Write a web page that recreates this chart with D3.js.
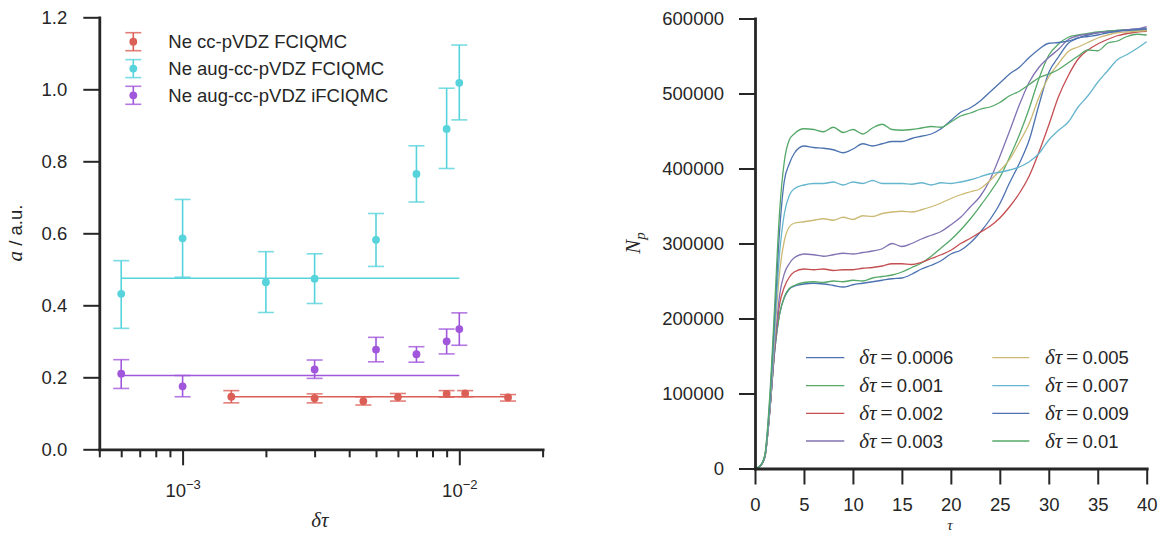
<!DOCTYPE html>
<html>
<head>
<meta charset="utf-8">
<script src="https://cdn.jsdelivr.net/npm/d3@7"></script>
<style>
  html, body { margin: 0; padding: 0; background: #fff; }
  svg { display: block; }
  text { font-family: "Liberation Sans", Arial, Helvetica, sans-serif; fill: #262626; }
</style>
</head>
<body>
<svg id="chart" width="1158" height="534"></svg>
<script>
// ---------------- Left panel data ----------------
const leftSeriesNames = ["Ne cc-pVDZ FCIQMC", "Ne aug-cc-pVDZ FCIQMC", "Ne aug-cc-pVDZ iFCIQMC"];
const leftColors = ["#db5f57", "#57d3db", "#a157db"];

const redX  = [0.0015, 0.003, 0.0045, 0.006, 0.009, 0.0105, 0.015];
const redY  = [0.146, 0.142, 0.134, 0.145, 0.154, 0.155, 0.144];
const redLo = [0.129, 0.129, 0.123, 0.134, 0.145, 0.146, 0.134];
const redHi = [0.163, 0.154, 0.146, 0.155, 0.163, 0.163, 0.152];

const cyanX  = [0.0006, 0.001, 0.002, 0.003, 0.005, 0.007, 0.009, 0.01];
const cyanY  = [0.432, 0.586, 0.464, 0.474, 0.582, 0.765, 0.890, 1.018];
const cyanLo = [0.336, 0.478, 0.380, 0.405, 0.508, 0.687, 0.780, 0.915];
const cyanHi = [0.524, 0.694, 0.549, 0.543, 0.655, 0.843, 1.003, 1.123];

const purpleX  = [0.0006, 0.001, 0.003, 0.005, 0.007, 0.009, 0.01];
const purpleY  = [0.210, 0.175, 0.222, 0.277, 0.264, 0.300, 0.334];
const purpleLo = [0.169, 0.146, 0.197, 0.243, 0.242, 0.265, 0.289];
const purpleHi = [0.249, 0.205, 0.248, 0.311, 0.285, 0.334, 0.379];

// horizontal fit lines: [x start, x end, value]
const redFit    = [0.0015, 0.015, 0.146];
const cyanFit   = [0.0006, 0.01, 0.475];
const purpleFit = [0.0006, 0.01, 0.205];

const leftYTicks = [0.0, 0.2, 0.4, 0.6, 0.8, 1.0, 1.2];
const leftXMajor = [0.001, 0.01];
const leftXMajorExp = ["-3", "-2"];
const leftXMinor = [0.0005, 0.0006, 0.0007, 0.0008, 0.0009, 0.002, 0.003, 0.004, 0.005, 0.006, 0.007, 0.008, 0.009, 0.02];

// ---------------- Right panel data ----------------
const tGrid = [0, 0.5, 1, 1.5, 2, 2.5, 3, 3.5, 4,
  5, 6, 7, 8, 9, 10, 11, 12, 13, 14, 15, 16, 17, 18, 19, 20, 21, 22,
  23, 24, 25, 26, 27, 28, 29, 30, 31, 32, 33, 34, 35, 36, 37, 38, 39, 40];

// walker numbers in thousands
const np0006 = [0, 3, 15, 75, 155, 205, 228, 239, 243,
  246, 247, 246, 244, 242, 245, 247, 249, 251, 253, 254, 259, 266, 271, 277, 286, 291, 301,
  315, 332, 353, 381, 407, 438, 485, 528, 549, 567, 574, 578, 581, 583, 584, 585, 586, 586];
const np001 = [0, 3, 15, 75, 155, 205, 229, 240, 244,
  248, 249, 248, 250, 249, 251, 250, 254, 256, 258, 262, 268, 274, 283, 294, 305, 318, 333,
  350, 368, 388, 415, 445, 480, 520, 551, 566, 575, 578, 580, 582, 583, 584, 585, 585, 584];
const np002 = [0, 3, 15, 75, 158, 218, 242, 255, 262,
  266, 265, 266, 264, 265, 265, 267, 268, 270, 273, 273, 272, 275, 280, 285, 291, 300, 307,
  315, 323, 334, 349, 367, 390, 422, 458, 496, 524, 546, 558, 566, 572, 577, 580, 582, 583];
const np003 = [0, 3, 15, 75, 160, 230, 260, 273, 281,
  286, 285, 283, 285, 287, 286, 288, 290, 293, 300, 296, 300, 306, 311, 316, 325, 335, 349,
  363, 385, 416, 450, 485, 515, 535, 548, 559, 572, 577, 579, 581, 582, 583, 585, 586, 589];
const np005 = [0, 3, 16, 80, 175, 260, 304, 322, 327,
  329, 331, 333, 331, 335, 332, 337, 336, 340, 342, 343, 342, 345, 349, 354, 360, 365, 369,
  373, 384, 397, 412, 435, 460, 495, 522, 540, 556, 562, 568, 574, 578, 581, 582, 583, 584];
const np007 = [0, 3, 16, 82, 185, 285, 340, 364, 373,
  378, 380, 380, 382, 378, 382, 380, 384, 380, 380, 380, 379, 381, 378, 381, 380, 382, 385,
  389, 393, 395, 398, 402, 409, 420, 438, 451, 462, 482, 497, 515, 530, 545, 552, 560, 569];
const np009 = [0, 3, 17, 88, 200, 315, 384, 406, 420,
  430, 428, 427, 425, 421, 426, 433, 430, 433, 436, 436, 440, 443, 446, 453, 464, 475, 481,
  490, 502, 514, 526, 535, 548, 559, 567, 568, 570, 574, 576, 578, 581, 583, 584, 585, 586];
const np01 = [0, 3, 18, 95, 215, 340, 410, 438, 446,
  453, 452, 449, 455, 448, 452, 446, 454, 459, 452, 451, 452, 454, 456, 455, 462, 470, 474,
  479, 482, 488, 497, 503, 512, 521, 526, 532, 541, 550, 558, 557, 567, 570, 576, 579, 578];

const rightLabels = ["0.0006", "0.001", "0.002", "0.003", "0.005", "0.007", "0.009", "0.01"];
const rightColors = ["#4c72b0", "#55a868", "#c44e52", "#8172b2", "#ccb974", "#64b5cd", "#4c72b0", "#55a868"];
const rightSeries = [np0006, np001, np002, np003, np005, np007, np009, np01];

const rightYTicks = [0, 100000, 200000, 300000, 400000, 500000, 600000];
const rightXTicks = [0, 5, 10, 15, 20, 25, 30, 35, 40];

// ---------------- Drawing ----------------
const svg = d3.select("#chart");
const FS = 18.5;
const INK = "#262626";

function styleAxis(g, domainW, tickW) {
  g.select(".domain").attr("stroke", INK).attr("stroke-width", domainW).attr("stroke-linecap", "square");
  g.selectAll(".tick line").attr("stroke", INK).attr("stroke-width", tickW);
  g.selectAll(".tick text").attr("fill", INK).style("font-size", FS + "px")
    .style("font-family", '"Liberation Sans", Arial, sans-serif');
}

// ===== Left panel =====
const xL = d3.scaleLog().domain([0.0005, 0.02]).range([99.3, 542.6]);
const yL = d3.scaleLinear().domain([0, 1.2]).range([449.3, 17.3]);

const gL = svg.append("g");

// fit lines
[[redFit, leftColors[0]], [cyanFit, leftColors[1]], [purpleFit, leftColors[2]]].forEach(([f, c]) => {
  gL.append("line")
    .attr("x1", xL(f[0])).attr("x2", xL(f[1]))
    .attr("y1", yL(f[2])).attr("y2", yL(f[2]))
    .attr("stroke", c).attr("stroke-width", 1.6);
});

function drawErr(g, xs, ys, lo, hi, color) {
  const cap = 8;
  xs.forEach((xv, i) => {
    const cx = xL(xv);
    g.append("line").attr("x1", cx).attr("x2", cx).attr("y1", yL(lo[i])).attr("y2", yL(hi[i]))
      .attr("stroke", color).attr("stroke-width", 1.6);
    [lo[i], hi[i]].forEach(v => {
      g.append("line").attr("x1", cx - cap).attr("x2", cx + cap).attr("y1", yL(v)).attr("y2", yL(v))
        .attr("stroke", color).attr("stroke-width", 1.6).attr("stroke-opacity", 0.8);
    });
    g.append("circle").attr("cx", cx).attr("cy", yL(ys[i])).attr("r", 3.9).attr("fill", color);
  });
}
drawErr(gL, redX, redY, redLo, redHi, leftColors[0]);
drawErr(gL, cyanX, cyanY, cyanLo, cyanHi, leftColors[1]);
drawErr(gL, purpleX, purpleY, purpleLo, purpleHi, leftColors[2]);

// left y axis
const axLy = gL.append("g").attr("transform", "translate(99.3,0)")
  .call(d3.axisLeft(yL).tickValues(leftYTicks).tickFormat(d3.format(".1f"))
    .tickSize(16).tickPadding(16).tickSizeOuter(0));
styleAxis(axLy, 2.8, 2);

// left x axis: minor ticks
const axLxMinor = gL.append("g").attr("transform", "translate(0,449.3)")
  .call(d3.axisBottom(xL).tickValues(leftXMinor).tickFormat("").tickSize(8).tickSizeOuter(0));
styleAxis(axLxMinor, 2.8, 2);
// major ticks
const axLxMajor = gL.append("g").attr("transform", "translate(0,449.3)")
  .call(d3.axisBottom(xL).tickValues(leftXMajor).tickFormat("").tickSize(16).tickSizeOuter(0));
styleAxis(axLxMajor, 2.8, 2);
axLxMajor.select(".domain").remove();
axLxMajor.selectAll(".tick").each(function(d, i) {
  const t = d3.select(this).append("text")
    .attr("y", 47.7).attr("text-anchor", "middle").attr("fill", INK)
    .style("font-size", FS + "px");
  t.append("tspan").text("10");
  t.append("tspan").attr("dy", -8).style("font-size", "13px").text("\u2212" + leftXMajorExp[i].slice(1));
});

// left axis labels
const yLab = gL.append("text").attr("transform", "translate(22,233) rotate(-90)")
  .attr("text-anchor", "middle").style("font-size", FS + "px");
yLab.append("tspan").style("font-family", '"Liberation Serif", "DejaVu Serif", serif').style("font-style", "italic")
  .style("font-size", "21px").text("a");
yLab.append("tspan").text(" / a.u.");

gL.append("text").attr("x", 320).attr("y", 527).attr("text-anchor", "middle")
  .style("font-family", '"Liberation Serif", "DejaVu Serif", serif').style("font-style", "italic")
  .style("font-size", "21px").text("\u03b4\u03c4");

// left legend
const legRows = [41.7, 68.6, 95.3];
leftSeriesNames.forEach((name, i) => {
  const cy = legRows[i], cx = 133.3, c = leftColors[i];
  gL.append("line").attr("x1", cx).attr("x2", cx).attr("y1", cy - 9).attr("y2", cy + 9)
    .attr("stroke", c).attr("stroke-width", 1.6);
  [cy - 9, cy + 9].forEach(v => gL.append("line").attr("x1", cx - 8).attr("x2", cx + 8)
    .attr("y1", v).attr("y2", v).attr("stroke", c).attr("stroke-width", 1.6).attr("stroke-opacity", 0.8));
  gL.append("circle").attr("cx", cx).attr("cy", cy).attr("r", 3.9).attr("fill", c);
  gL.append("text").attr("x", 168.3).attr("y", cy).attr("dy", "0.36em")
    .style("font-size", FS + "px").text(name);
});

// ===== Right panel =====
const xR = d3.scaleLinear().domain([0, 40]).range([755, 1146.7]);
const yR = d3.scaleLinear().domain([0, 600000]).range([468.5, 18.5]);
const gR = svg.append("g");

const line = d3.line().x(d => xR(d[0])).y(d => yR(d[1] * 1000)).curve(d3.curveMonotoneX);
rightSeries.forEach((s, k) => {
  gR.append("path").datum(tGrid.map((t, i) => [t, s[i]]))
    .attr("d", line).attr("fill", "none").attr("stroke", rightColors[k]).attr("stroke-width", 1.3);
});

const axRy = gR.append("g").attr("transform", "translate(755,0)")
  .call(d3.axisLeft(yR).tickValues(rightYTicks).tickFormat(d3.format("d"))
    .tickSize(16).tickPadding(15).tickSizeOuter(0));
styleAxis(axRy, 2.8, 2);
const axRx = gR.append("g").attr("transform", "translate(0,468.5)")
  .call(d3.axisBottom(xR).tickValues(rightXTicks).tickFormat(d3.format("d"))
    .tickSize(16).tickPadding(13).tickSizeOuter(0));
styleAxis(axRx, 2.8, 2);

// right axis labels
const npLab = gR.append("text").attr("transform", "translate(640,243) rotate(-90)")
  .attr("text-anchor", "middle")
  .style("font-family", '"Liberation Serif", "DejaVu Serif", serif').style("font-style", "italic")
  .style("font-size", "21px");
npLab.append("tspan").text("N");
npLab.append("tspan").attr("dy", 5).style("font-size", "15px").text("p");

gR.append("text").attr("x", 950).attr("y", 530).attr("text-anchor", "middle")
  .style("font-family", '"Liberation Serif", "DejaVu Serif", serif').style("font-style", "italic")
  .style("font-size", "15px").text("\u03c4");

// right legend
const rRows = [357.7, 385.7, 413.3, 441];
rightLabels.forEach((lab, k) => {
  const col = Math.floor(k / 4), row = k % 4;
  const lx0 = col === 0 ? 806 : 992.3, lx1 = col === 0 ? 844.3 : 1029.3;
  const tx = col === 0 ? 859.3 : 1045;
  const cy = rRows[row];
  gR.append("line").attr("x1", lx0).attr("x2", lx1).attr("y1", cy).attr("y2", cy)
    .attr("stroke", rightColors[k]).attr("stroke-width", 1.3);
  const t = gR.append("text").attr("x", tx).attr("y", cy).attr("dy", "0.36em").style("font-size", FS + "px");
  t.append("tspan").style("font-family", '"Liberation Serif", "DejaVu Serif", serif')
    .style("font-style", "italic").style("font-size", "21px").text("\u03b4\u03c4");
  t.append("tspan").attr("x", tx + 21).style("font-family", '"Liberation Serif", "DejaVu Serif", serif')
    .style("font-size", "22px").text("=");
  t.append("tspan").attr("x", tx + 37.5).text(lab);
});
</script>
</body>
</html>
